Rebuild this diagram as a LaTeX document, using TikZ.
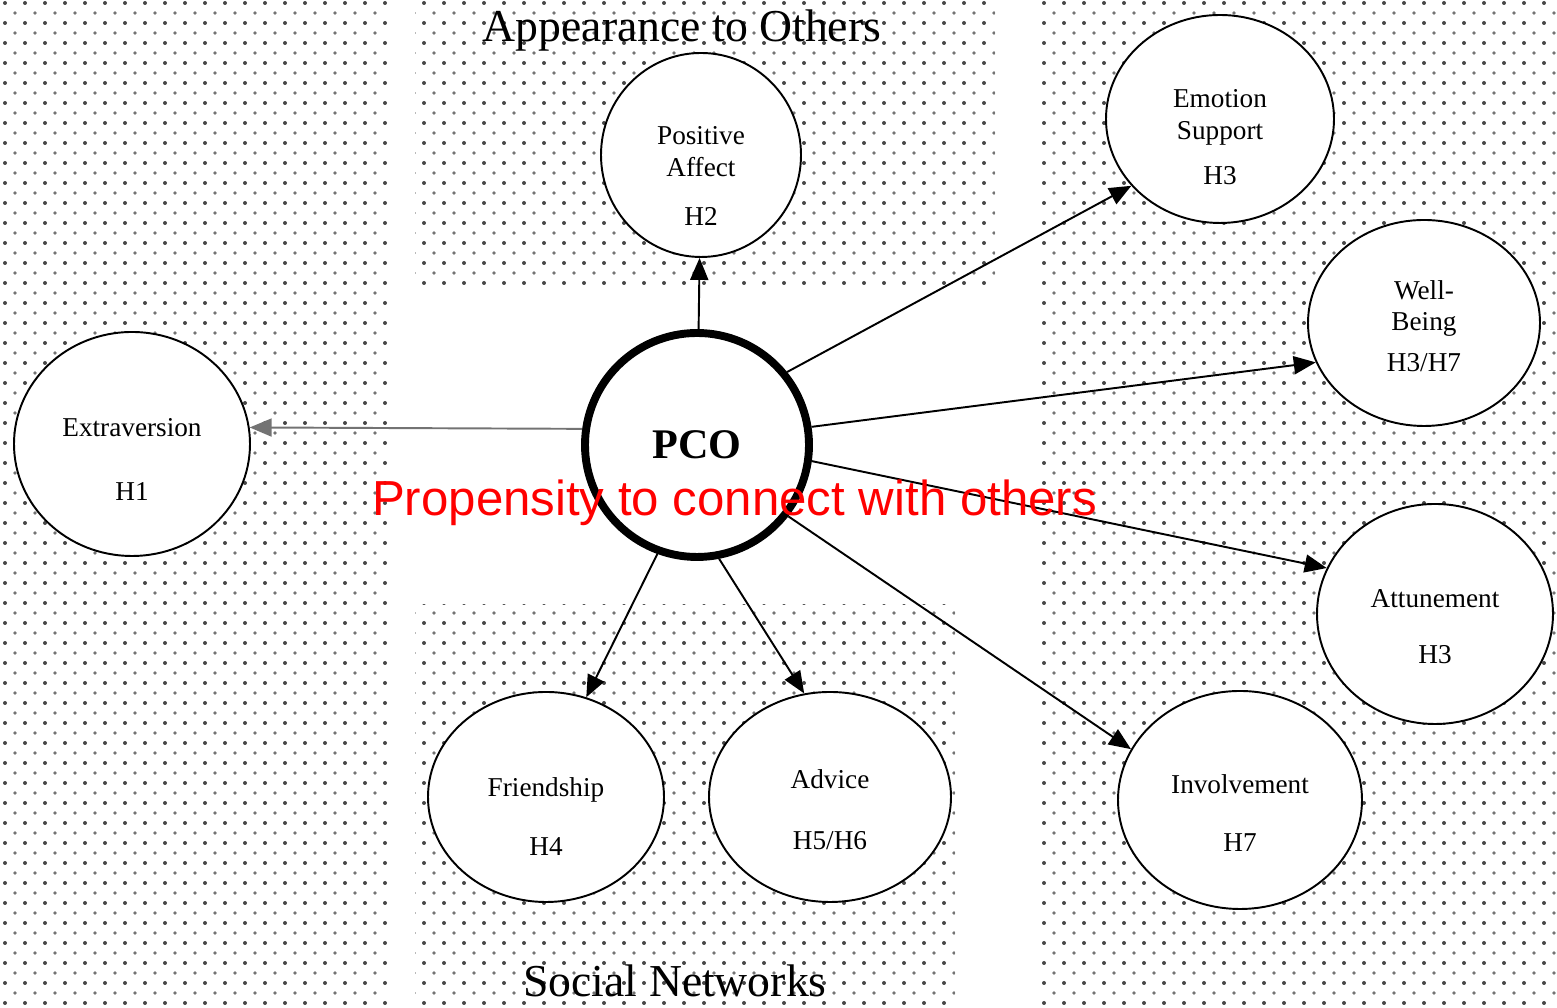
\documentclass[tikz,border=0pt]{standalone}
\usepackage{fontspec}
\setmainfont{Liberation Serif}
\newfontfamily\redfont{Liberation Sans}
\usetikzlibrary{shapes.geometric,arrows.meta,patterns.meta}

\newcommand{\dropby}[1]{\rule{0pt}{#1}}

\tikzdeclarepattern{
  name=bgdots,
  type=colored,
  bottom left={(0,0)},
  top right={(0.4,0.4)},
  tile size={(0.4,0.4)},
  code={
    \fill[black!72] (0.1,0.1) circle (0.04);
    \fill[black!55] (0.3,0.3) circle (0.036);
  }
}

\begin{document}
\begin{tikzpicture}[>={Triangle[length=0.44cm,width=0.36cm]}]

        \useasboundingbox (0,0) rectangle (31.14,20.16);

        % dotted panels
        \path[pattern=bgdots] (0,0) rectangle (7.8,20.16);
        \path[pattern=bgdots] (8.3,14.46) rectangle (19.9,20.16);
        \path[pattern=bgdots] (8.3,0) rectangle (19.1,8.06);
        \path[pattern=bgdots] (20.8,0) rectangle (31.14,20.16);

        \begin{scope}[every node/.style={ellipse,draw,line width=1.1pt,fill=white,inner sep=0pt,align=center,font=\fontsize{15.5}{18}\selectfont}]
            \node[minimum width=4.72cm,minimum height=4.48cm] (ext) at (2.64,11.28) {\dropby{28pt}Extraversion\\[18pt]H1};
            \node[minimum width=4.0cm,minimum height=4.08cm] (pos) at (14.02,17.06) {\dropby{34pt}Positive\\Affect\\[10pt]H2};
            \node[minimum width=4.56cm,minimum height=4.16cm] (emo) at (24.40,17.78) {\dropby{31pt}Emotion\\Support\\[8pt]H3};
            \node[minimum width=4.64cm,minimum height=4.12cm] (well) at (28.48,13.70) {\dropby{14pt}Well-\\Being\\[5pt]H3/H7};
            \node[minimum width=4.72cm,minimum height=4.40cm] (att) at (28.70,7.88) {\dropby{25pt}Attunement\\[14pt]H3};
            \node[minimum width=4.88cm,minimum height=4.36cm] (inv) at (24.80,4.16) {\dropby{26pt}Involvement\\[15pt]H7};
            \node[minimum width=4.72cm,minimum height=4.20cm] (fri) at (10.92,4.22) {\dropby{33pt}Friendship\\[16pt]H4};
            \node[minimum width=4.84cm,minimum height=4.20cm] (adv) at (16.60,4.22) {\dropby{25pt}Advice\\[17pt]H5/H6};
        \end{scope}

        \node[circle,draw,line width=4.5pt,fill=white,minimum size=4.48cm,font=\fontsize{24}{28}\selectfont\bfseries] (pco) at (13.94,11.26) {PCO};

        \begin{scope}[every edge/.style={draw,line width=1.1pt}]
            \path [->] (pco) edge (pos);
            \path [->] (pco.172) edge [draw=black!55] (ext.8);
            \path [->] (pco.39) edge (emo.217);
            \path [->] (pco.9) edge (well.200);
            \path [->] (pco.352) edge (att.157);
            \path [->] (pco.322) edge (inv.155);
            \path [->] (pco.250) edge (fri.68);
            \path [->] (pco.281) edge (adv.104);
        \end{scope}

        \node[anchor=base,font=\fontsize{26}{30}\selectfont] (appear) at (13.64,19.32) {Appearance to Others};
        \node[anchor=base,font=\fontsize{26}{30}\selectfont] (social) at (13.50,0.22) {Social Networks};
        \node[anchor=base,text=red,font=\redfont\fontsize{28}{32}\selectfont] (prop) at (14.69,9.84) {Propensity to connect with others};

    \end{tikzpicture}
\end{document}
